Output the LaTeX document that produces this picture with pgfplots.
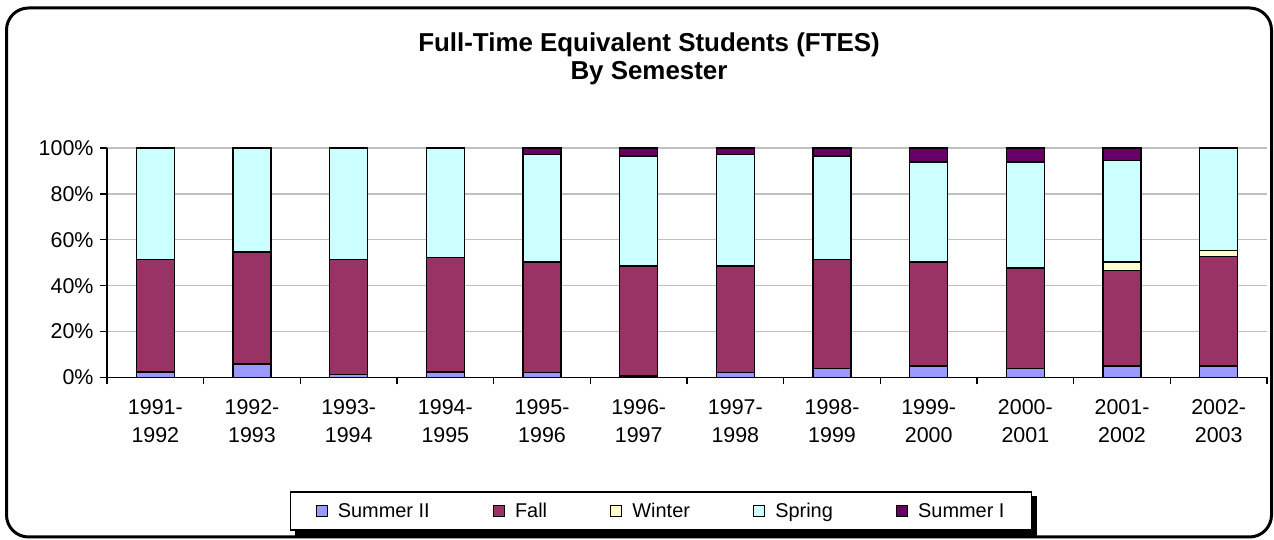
\documentclass[border=0pt]{standalone}
\usepackage{fontspec}
\setmainfont{Liberation Sans}
\usepackage{pgfplots}
\usepackage{pgfplotstable}
\pgfplotsset{compat=1.18}
\usetikzlibrary{backgrounds}
\definecolor{sumtwo}{HTML}{9999FF}
\definecolor{fallc}{HTML}{993366}
\definecolor{winterc}{HTML}{FFFFCC}
\definecolor{springc}{HTML}{CCFFFF}
\definecolor{sumone}{HTML}{660066}
\definecolor{gridgray}{HTML}{C0C0C0}

\pgfplotstableread{
x s2 fall winter spring s1
0  2.5 48.9 0   48.6 0
1  5.8 48.9 0   45.3 0
2  1.3 50.1 0   48.6 0
3  2.5 49.7 0   47.8 0
4  2.2 48.2 0   46.8 2.8
5  0.6 48.0 0   47.9 3.5
6  2.2 46.4 0   48.6 2.8
7  3.9 47.5 0   45.1 3.5
8  4.9 45.5 0   43.5 6.1
9  3.9 43.9 0   46.1 6.1
10 4.9 41.8 3.7 44.2 5.4
11 4.9 47.9 2.6 44.6 0
}\data

\pgfplotsset{
  myleg/.style={legend image code/.code={\draw[##1, draw=black, line width=1.3bp] (0bp,-5.5bp) rectangle (11bp,5.5bp);}},
}

\begin{document}
\begin{tikzpicture}[x=1bp,y=1bp]
\useasboundingbox (0,0) rectangle (1274,540);
\draw[line width=3bp, rounded corners=22bp] (6.5,3) rectangle (1271.5,532);
\node[font=\fontsize{26}{28}\selectfont\bfseries, anchor=base] at (649,488.3) {Full-Time Equivalent Students (FTES)};
\node[font=\fontsize{26}{28}\selectfont\bfseries, anchor=base] at (649,460.7) {By Semester};
\begin{axis}[
  at={(107bp,162.5bp)}, anchor=south west,
  scale only axis, width=1160bp, height=229.5bp,
  xmin=-0.5, xmax=11.5, ymin=0, ymax=100,
  enlargelimits=false,
  ybar stacked, bar width=38bp,
  axis x line=bottom, axis y line=left,
  axis line style={-, black, line width=1.3bp},
  ytick={0,20,40,60,80,100},
  yticklabels={0\%,20\%,40\%,60\%,80\%,100\%},
  ymajorgrids, grid style={gridgray, line width=1.3bp},
  tick style={black, line width=1.3bp},
  tick align=outside,
  major tick length=7bp, minor tick length=7bp,
  xtick={0,...,11},
  xticklabels={{1991-\\1992},{1992-\\1993},{1993-\\1994},{1994-\\1995},{1995-\\1996},{1996-\\1997},{1997-\\1998},{1998-\\1999},{1999-\\2000},{2000-\\2001},{2001-\\2002},{2002-\\2003}},
  minor xtick={-0.5,0.5,...,11.5},
  major x tick style={draw=none},
  xticklabel style={align=center, font=\fontsize{21.5}{28}\selectfont, yshift=-12bp},
  yticklabel style={font=\fontsize{21.5}{24}\selectfont, xshift=-3bp},
  legend columns=5,
  legend style={name=leg, at={(0.4776,-0.5817)}, anchor=center, draw=black, line width=1.3bp, fill=white,
    font=\fontsize{20}{24}\selectfont,
    /tikz/every odd column/.append style={column sep=8bp},
    /tikz/every even column/.append style={column sep=61bp},
    inner xsep=25bp, inner ysep=9bp},
]
\addplot[fill=sumtwo, draw=black, line width=1.5bp, myleg] table[x=x,y=s2]{\data};
\addplot[fill=fallc, draw=black, line width=1.5bp, myleg] table[x=x,y=fall]{\data};
\addplot[fill=winterc, draw=black, line width=1.5bp, myleg] table[x=x,y=winter]{\data};
\addplot[fill=springc, draw=black, line width=1.5bp, myleg] table[x=x,y=spring]{\data};
\addplot[fill=sumone, draw=black, line width=1.5bp, myleg] table[x=x,y=s1]{\data};
\legend{Summer II,Fall,Winter,Spring,Summer I}
\end{axis}
\begin{scope}[on background layer]
\fill[black] ([xshift=5bp,yshift=-5bp]leg.south west) rectangle ([xshift=5bp,yshift=-5bp]leg.north east);
\end{scope}
\end{tikzpicture}
\end{document}
